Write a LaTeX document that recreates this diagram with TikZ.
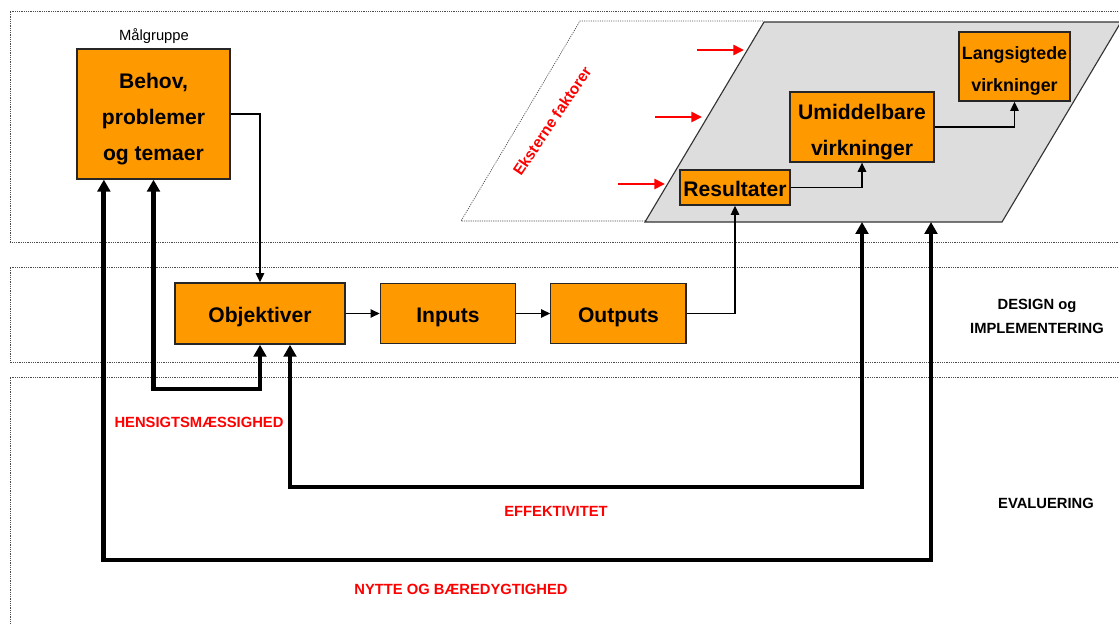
\documentclass[tikz,border=0pt]{standalone}
\usepackage{fontspec}
\setmainfont{Liberation Sans}
\usetikzlibrary{arrows.meta, positioning}
\definecolor{boxorange}{HTML}{FF9900}
\definecolor{planegray}{HTML}{DDDDDD}

\begin{document}
\begin{tikzpicture}[
        x=0.025cm, y=-0.025cm,
        effectbox/.style = {draw=black!85, line width=0.9pt, fill=boxorange, align=center, inner sep=0pt, text height=16.5pt, text depth=3pt, font=\fontsize{15}{25.5}\selectfont\bfseries},
        bandline/.style = {draw=black!70, line width=0.5pt, dash pattern=on 0.8pt off 0.8pt},
        flow/.style = {draw=black, line width=1pt, -{Triangle[length=6.5pt,width=6pt]}},
        feedback/.style = {draw=black, line width=3.5pt, {Triangle[length=8.5pt,width=9pt]}-{Triangle[length=8.5pt,width=9pt]}},
        extarrow/.style = {draw=red, line width=2pt, -{Triangle[length=7.5pt,width=7pt]}},
        redlabel/.style = {text=red, font=\fontsize{10.5}{12}\selectfont\bfseries},
        sidelabel/.style = {align=center, font=\fontsize{10.5}{17}\selectfont\bfseries}
    ]
    \useasboundingbox (0,0) rectangle (1119,625);

    % bands
    \draw[bandline] (1125,11) -- (10,11) -- (10,242) -- (1125,242);
    \draw[bandline] (1125,267) -- (10,267) -- (10,362) -- (1125,362);
    \draw[bandline] (1125,377) -- (10,377) -- (10,630);

    % external factors and effect plane
    \draw[bandline] (645,221) -- (461,221) -- (580,21) -- (764,21);
    \draw[draw=black!80, line width=0.8pt, fill=planegray] (645,222) -- (764,22) -- (1121,22) -- (1002,222) -- cycle;
    \coordinate (pbase) at (0,222);

    \node[rotate=56, text=red, font=\fontsize{11}{13}\selectfont\bfseries] (ekstern) at (552,121) {Eksterne faktorer};
    \foreach \y/\x in {50/744, 117/702, 184/665}
        \draw[extarrow] (\x-47,\y) -- (\x,\y);

    % boxes
    \node[font=\fontsize{10.5}{12}\selectfont] (malgruppe) at (154,36) {Målgruppe};
    \node[effectbox, minimum width=3.83cm, minimum height=3.25cm, text height=69pt] (behov) at (153.5,114) {Behov,\\problemer\\og temaer};
    \node[effectbox, minimum width=4.25cm, minimum height=1.53cm] (obj) at (260,313.5) {Objektiver};
    \node[effectbox, minimum width=3.38cm, minimum height=1.5cm, right=0.85cm of obj] (inputs) {Inputs};
    \node[effectbox, minimum width=3.38cm, minimum height=1.5cm, right=0.85cm of inputs] (outputs) {Outputs};
    \node[effectbox, minimum width=2.75cm, minimum height=0.88cm] (result) at (735,187.5) {Resultater};
    \node[effectbox, minimum width=3.6cm, minimum height=1.75cm, text height=43.5pt] (umid) at (862,127) {Umiddelbare\\virkninger};
    \node[effectbox, minimum width=2.78cm, minimum height=1.73cm, text height=39pt, font=\fontsize{12.7}{22.8}\selectfont\bfseries] (lang) at (1014.5,66.5) {Langsigtede\\virkninger};

    % flow
    \draw[flow] (behov.east) -| (obj.north);
    \draw[flow] (obj) -- (inputs);
    \draw[flow] (inputs) -- (outputs);
    \draw[flow] (outputs.east) -| (result.south);
    \draw[flow] (result.east) -| (umid.south);
    \draw[flow] (umid.east) -| (lang.south);

    % feedback loops
    \coordinate (hsgt) at (0,389);
    \draw[feedback] (behov.south) -- (behov.south |- hsgt) -| (obj.south);

    \coordinate (effstart) at ([xshift=0.75cm]obj.south);
    \coordinate (effy) at (0,487);
    \draw[feedback] (effstart) -- (effstart |- effy) -| (umid.south |- pbase);

    \coordinate (nyttestart) at ([xshift=-1.24cm]behov.south);
    \coordinate (nyttey) at (0,560);
    \coordinate (nytteend) at (931,222);
    \draw[feedback] (nyttestart) -- (nyttestart |- nyttey) -| (nytteend);

    % labels
    \node[redlabel] (hensigt) at (199,422) {HENSIGTSMÆSSIGHED};
    \node[redlabel] (effekt) at (556,511) {EFFEKTIVITET};
    \node[redlabel] (nytte) at (461,589) {NYTTE OG BÆREDYGTIGHED};
    \node[sidelabel] (design) at (1037,316) {DESIGN og\\IMPLEMENTERING};
    \node[sidelabel] (evaluering) at (1046,503) {EVALUERING};

\end{tikzpicture}
\end{document}
